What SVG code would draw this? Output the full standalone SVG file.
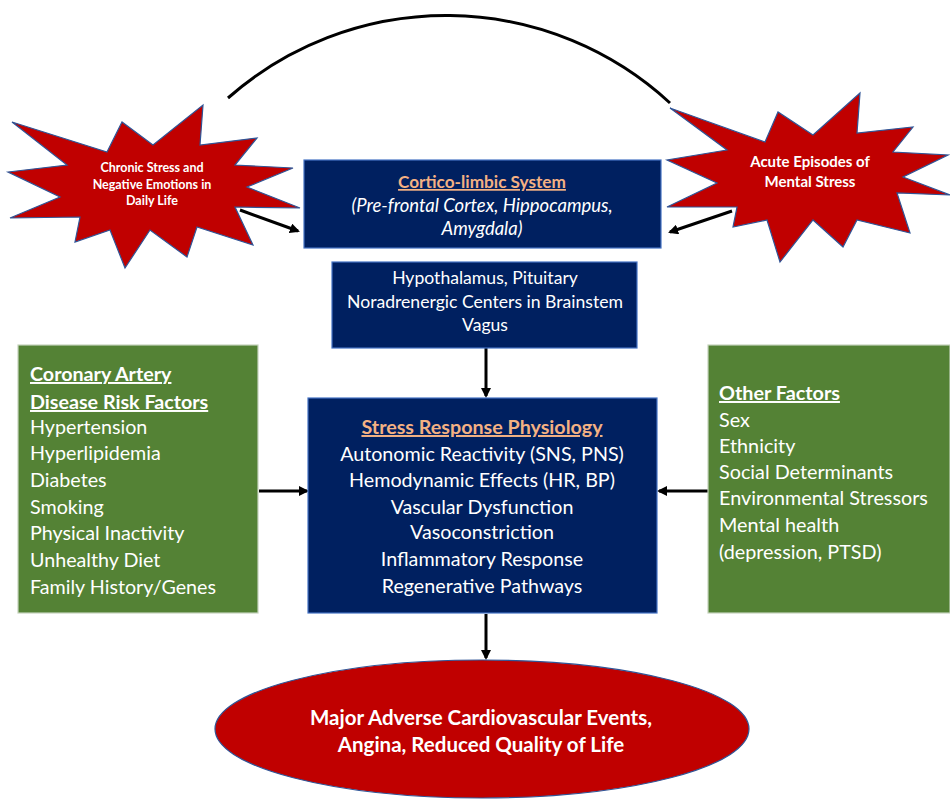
<svg xmlns="http://www.w3.org/2000/svg" width="950" height="800" viewBox="0 0 950 800">
<defs>
<marker id="ah" markerWidth="10" markerHeight="10" refX="8" refY="5" orient="auto" markerUnits="userSpaceOnUse">
<path d="M0,0 L10,5 L0,10 Z" fill="#000"/>
</marker>
<style>
.t{font-family:Lato,"Liberation Sans",sans-serif;fill:#fff}
.star{fill:#C00000;stroke:#2F5597;stroke-width:1.2}
.blue{fill:#002060;stroke:#4472C4;stroke-width:1.2}
.green{fill:#548235;stroke:#C5D3BC;stroke-width:1.2}
.hdr{font-weight:bold;fill:#F4B183;text-decoration:underline}
.b{font-weight:bold}
.u{font-weight:bold;text-decoration:underline}
.conn{stroke:#000;stroke-width:3;fill:none}
</style>
</defs>
<rect width="950" height="800" fill="#fff"/>

<g id="connectors">
<path class="conn" d="M228,98 A330,330 0 0 1 670,103"/>
<line class="conn" x1="240" y1="210" x2="298" y2="231" marker-end="url(#ah)"/>
<line class="conn" x1="732" y1="211" x2="670" y2="232" marker-end="url(#ah)"/>
<line class="conn" x1="486" y1="348" x2="486" y2="396" marker-end="url(#ah)"/>
<line class="conn" x1="259" y1="491" x2="307" y2="491" marker-end="url(#ah)"/>
<line class="conn" x1="708" y1="491" x2="659" y2="491" marker-end="url(#ah)"/>
<line class="conn" x1="486" y1="614" x2="486" y2="658" marker-end="url(#ah)"/>
</g>

<g id="chronic-stress">
<polygon class="star" points="12,122 107,152 122,122 153,145 203,105 200,145 257,138 235,165 293,168 247,187 300,208 235,207 253,245 197,227 187,257 150,230 125,268 110,230 75,242 80,217 10,218 60,197 8,172 67,165"/>
<text class="t b" font-size="12.5" text-anchor="middle"><tspan x="152" y="172">Chronic Stress and</tspan><tspan x="152" y="189">Negative Emotions in</tspan><tspan x="152" y="205">Daily Life</tspan></text>
</g>

<g id="acute-stress">
<polygon class="star" points="670,108 765,142 778,112 813,135 860,93 857,133 913,127 893,152 948,155 903,177 950,195 897,193 910,233 857,220 843,247 813,220 780,262 767,220 733,227 737,207 667,207 717,183 667,160 727,150"/>
<text class="t b" font-size="15" text-anchor="middle"><tspan x="810" y="167">Acute Episodes of</tspan><tspan x="810" y="187">Mental Stress</tspan></text>
</g>

<g id="cortico-limbic">
<rect class="blue" x="304" y="160" width="357" height="88"/>
<text class="t" text-anchor="middle"><tspan class="hdr" x="482" y="188" font-size="17.2">Cortico-limbic System</tspan><tspan x="482" y="212" font-size="18.5" font-style="italic">(Pre-frontal Cortex, Hippocampus,</tspan><tspan x="482" y="235" font-size="18.5" font-style="italic">Amygdala)</tspan></text>
</g>

<g id="hypothalamus">
<rect class="blue" x="332" y="262" width="305" height="86"/>
<text class="t" font-size="17.6" text-anchor="middle"><tspan x="485" y="284">Hypothalamus, Pituitary</tspan><tspan x="485" y="308">Noradrenergic Centers in Brainstem</tspan><tspan x="485" y="331">Vagus</tspan></text>
</g>

<g id="cad-risk">
<rect class="green" x="18" y="345" width="240" height="268"/>
<text class="t" font-size="19.7"><tspan class="u" x="30" y="381">Coronary Artery</tspan><tspan class="u" x="30" y="409">Disease Risk Factors</tspan><tspan x="30" y="434">Hypertension</tspan><tspan x="30" y="460">Hyperlipidemia</tspan><tspan x="30" y="487">Diabetes</tspan><tspan x="30" y="514">Smoking</tspan><tspan x="30" y="540">Physical Inactivity</tspan><tspan x="30" y="567">Unhealthy Diet</tspan><tspan x="30" y="594">Family History/Genes</tspan></text>
</g>

<g id="other-factors">
<rect class="green" x="708" y="345" width="242" height="268"/>
<text class="t" font-size="19.8"><tspan class="u" x="719" y="400">Other Factors</tspan><tspan x="719" y="427">Sex</tspan><tspan x="719" y="453">Ethnicity</tspan><tspan x="719" y="479">Social Determinants</tspan><tspan x="719" y="505">Environmental Stressors</tspan><tspan x="719" y="532">Mental health</tspan><tspan x="719" y="559">(depression, PTSD)</tspan></text>
</g>

<g id="stress-response">
<rect class="blue" x="308" y="398" width="349" height="215"/>
<text class="t" font-size="19.7" text-anchor="middle"><tspan class="hdr" x="482" y="434">Stress Response Physiology</tspan><tspan x="482" y="461">Autonomic Reactivity (SNS, PNS)</tspan><tspan x="482" y="487">Hemodynamic Effects (HR, BP)</tspan><tspan x="482" y="514">Vascular Dysfunction</tspan><tspan x="482" y="539">Vasoconstriction</tspan><tspan x="482" y="566">Inflammatory Response</tspan><tspan x="482" y="593">Regenerative Pathways</tspan></text>
</g>

<g id="outcomes">
<ellipse cx="482" cy="729" rx="267" ry="69" fill="#C00000" stroke="#2F5597" stroke-width="1.2"/>
<text class="t b" font-size="20.5" text-anchor="middle"><tspan x="481" y="725">Major Adverse Cardiovascular Events,</tspan><tspan x="481" y="752">Angina, Reduced Quality of Life</tspan></text>
</g>
</svg>
